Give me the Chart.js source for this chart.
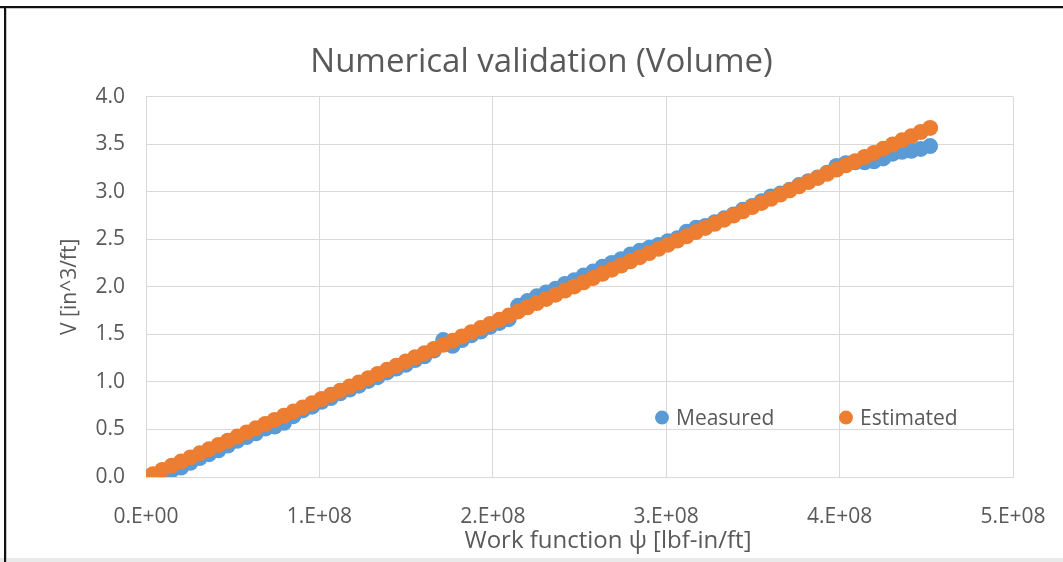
<!DOCTYPE html>
<html>
<head>
<meta charset="utf-8">
<script src="https://cdn.jsdelivr.net/npm/chart.js@4"></script>
<style>
  html, body { margin: 0; padding: 0; background: #ffffff; overflow: hidden; }
  #wrap { width: 1063px; height: 562px; position: relative; }
  canvas { display: block; }
</style>
</head>
<body>
<div id="wrap"><canvas id="chart" width="1063" height="562"></canvas></div>
<script>
// Work function psi [lbf-in/ft]
const psi = [
  4.0e6, 9.4e6, 14.8e6, 20.2e6, 25.6e6, 31.0e6, 36.4e6, 41.8e6, 47.2e6, 52.6e6,
  58.0e6, 63.4e6, 68.8e6, 74.2e6, 79.6e6, 85.0e6, 90.4e6, 95.8e6, 101.2e6, 106.6e6,
  112.0e6, 117.4e6, 122.8e6, 128.2e6, 133.6e6, 139.0e6, 144.4e6, 149.8e6, 155.2e6, 160.6e6,
  166.0e6, 171.4e6, 176.8e6, 182.2e6, 187.6e6, 193.0e6, 198.4e6, 203.8e6, 209.2e6, 214.6e6,
  220.0e6, 225.4e6, 230.8e6, 236.2e6, 241.6e6, 247.0e6, 252.4e6, 257.8e6, 263.2e6, 268.6e6,
  274.0e6, 279.4e6, 284.8e6, 290.2e6, 295.6e6, 301.0e6, 306.4e6, 311.8e6, 317.2e6, 322.6e6,
  328.0e6, 333.4e6, 338.8e6, 344.2e6, 349.6e6, 355.0e6, 360.4e6, 365.8e6, 371.2e6, 376.6e6,
  382.0e6, 387.4e6, 392.8e6, 398.2e6, 403.6e6, 409.0e6, 414.4e6, 419.8e6, 425.2e6, 430.6e6,
  436.0e6, 441.4e6, 446.8e6, 452.2e6
];

// Measured volume V [in^3/ft]
const measured = [
  0.00, 0.03, 0.07, 0.10, 0.15, 0.20, 0.24, 0.28, 0.33, 0.38,
  0.42, 0.46, 0.51, 0.53, 0.57, 0.64, 0.70, 0.74, 0.79, 0.83,
  0.88, 0.92, 0.96, 1.01, 1.05, 1.10, 1.14, 1.18, 1.23, 1.27,
  1.33, 1.44, 1.38, 1.44, 1.49, 1.53, 1.58, 1.62, 1.66, 1.80,
  1.85, 1.90, 1.94, 1.98, 2.03, 2.07, 2.12, 2.16, 2.21, 2.25,
  2.29, 2.34, 2.38, 2.41, 2.44, 2.48, 2.51, 2.58, 2.62, 2.64,
  2.68, 2.72, 2.76, 2.81, 2.85, 2.90, 2.95, 2.98, 3.02, 3.07,
  3.11, 3.15, 3.20, 3.27, 3.30, 3.31, 3.31, 3.32, 3.35, 3.40,
  3.42, 3.43, 3.45, 3.48
];

// Estimated volume V [in^3/ft]
const estimated = [
  0.030, 0.074, 0.118, 0.162, 0.206, 0.249, 0.293, 0.337, 0.381, 0.425,
  0.469, 0.513, 0.557, 0.600, 0.644, 0.688, 0.732, 0.776, 0.820, 0.864,
  0.908, 0.951, 0.995, 1.039, 1.083, 1.127, 1.171, 1.215, 1.259, 1.302,
  1.346, 1.390, 1.434, 1.478, 1.522, 1.566, 1.610, 1.653, 1.697, 1.741,
  1.785, 1.829, 1.873, 1.917, 1.961, 2.004, 2.048, 2.092, 2.136, 2.180,
  2.224, 2.268, 2.312, 2.355, 2.399, 2.443, 2.487, 2.531, 2.575, 2.619,
  2.663, 2.706, 2.750, 2.794, 2.838, 2.882, 2.926, 2.970, 3.014, 3.057,
  3.101, 3.145, 3.189, 3.233, 3.277, 3.321, 3.365, 3.408, 3.452, 3.496,
  3.540, 3.584, 3.628, 3.671
];

// Axis tick labels
const xTickValues = [0, 1e8, 2e8, 3e8, 4e8, 5e8];
const xTickLabels = ['0.E+00', '1.E+08', '2.E+08', '3.E+08', '4.E+08', '5.E+08'];
const yTickLabels = ['0.0', '0.5', '1.0', '1.5', '2.0', '2.5', '3.0', '3.5', '4.0'];

const seriesNames = ['Measured', 'Estimated'];
const seriesColors = ['#5B9BD5', '#ED7D31'];
const xAxisTitle = 'Work function ψ [lbf-in/ft]';

const FONT = "'Open Sans', 'Liberation Sans', sans-serif";
const TEXT = '#595959';
const GRID = '#d9d9d9';

const toPoints = (ys) => psi.map((x, i) => ({ x: x, y: ys[i] }));

// Page frame: white sheet with a dark top/left edge and a grey strip at the bottom
const framePlugin = {
  id: 'frame',
  beforeDraw(chart) {
    const { ctx, width, height } = chart;
    ctx.save();
    ctx.fillStyle = '#ffffff';
    ctx.fillRect(0, 0, width, height);
    ctx.fillStyle = '#e9e9e9';
    ctx.fillRect(0, height - 4, width, 4);
    ctx.fillStyle = '#c8c8c8';
    ctx.fillRect(0, 8, width, 1);
    ctx.fillRect(6, 8, 1, height);
    ctx.fillStyle = '#111111';
    ctx.fillRect(0, 6, width, 2);
    ctx.fillRect(4, 6, 2, height);
    ctx.restore();
  }
};

// Legend drawn inside the plot area, lower right, plus the horizontal axis title
const insideLegend = {
  id: 'insideLegend',
  afterDraw(chart) {
    const { ctx, chartArea } = chart;
    const y = chartArea.top + 321;
    const xs = [chartArea.left + 516, chartArea.left + 700];
    ctx.save();
    ctx.font = '21px ' + FONT;
    ctx.textBaseline = 'middle';
    ctx.textAlign = 'left';
    seriesNames.forEach((name, i) => {
      ctx.beginPath();
      ctx.fillStyle = seriesColors[i];
      ctx.arc(xs[i], y, 7, 0, Math.PI * 2);
      ctx.fill();
      ctx.fillStyle = TEXT;
      ctx.fillText(name, xs[i] + 14, y + 1);
    });
    ctx.font = '24px ' + FONT;
    ctx.textAlign = 'center';
    ctx.fillStyle = TEXT;
    ctx.fillText(xAxisTitle, chartArea.left + 462, chartArea.bottom + 64);
    ctx.restore();
  }
};

new Chart(document.getElementById('chart'), {
  type: 'scatter',
  data: {
    datasets: [
      {
        label: seriesNames[0],
        data: toPoints(measured),
        backgroundColor: seriesColors[0],
        borderColor: seriesColors[0],
        borderWidth: 0,
        pointRadius: 8,
        order: 1
      },
      {
        label: seriesNames[1],
        data: toPoints(estimated),
        backgroundColor: seriesColors[1],
        borderColor: seriesColors[1],
        borderWidth: 0,
        pointRadius: 8,
        order: 0
      }
    ]
  },
  options: {
    responsive: false,
    animation: false,
    layout: { padding: { left: 20, right: 0, top: 0, bottom: 0 } },
    plugins: {
      legend: { display: false },
      tooltip: { enabled: false },
      title: {
        display: true,
        text: 'Numerical validation (Volume)',
        color: TEXT,
        font: { family: FONT, size: 33, weight: 'normal' },
        padding: { top: 43, bottom: 14 }
      }
    },
    scales: {
      x: {
        type: 'linear',
        min: 0,
        max: 5e8,
        afterFit(scale) { scale.height = 85; },
        afterBuildTicks(scale) { scale.ticks = xTickValues.map(v => ({ value: v })); },
        ticks: {
          padding: 3,
          color: TEXT,
          font: { family: FONT, size: 21 },
          callback: (v) => xTickLabels[xTickValues.indexOf(v)]
        },
        grid: {
          color: GRID,
          lineWidth: 1,
          drawTicks: true,
          tickLength: 24,
          tickColor: 'rgba(0,0,0,0)'
        },
        border: { color: GRID, width: 1 },
        title: { display: false }
      },
      y: {
        type: 'linear',
        min: 0,
        max: 4,
        afterFit(scale) { scale.width = 126; },
        ticks: {
          stepSize: 0.5,
          padding: 21,
          color: TEXT,
          font: { family: FONT, size: 21 },
          callback: (v) => yTickLabels[Math.round(v * 2)]
        },
        grid: { color: GRID, lineWidth: 1, drawTicks: false },
        border: { color: GRID, width: 1 },
        title: {
          display: true,
          text: 'V [in^3/ft]',
          color: TEXT,
          font: { family: FONT, size: 21 },
          padding: { top: 37, bottom: 0 }
        }
      },
      // empty right-hand margin beside the plot
      margin: {
        type: 'linear',
        position: 'right',
        min: 0,
        max: 1,
        afterFit(scale) { scale.width = 50; },
        ticks: { display: false },
        grid: { display: false },
        border: { display: false },
        title: { display: false }
      }
    }
  },
  plugins: [framePlugin, insideLegend]
});
</script>
</body>
</html>
